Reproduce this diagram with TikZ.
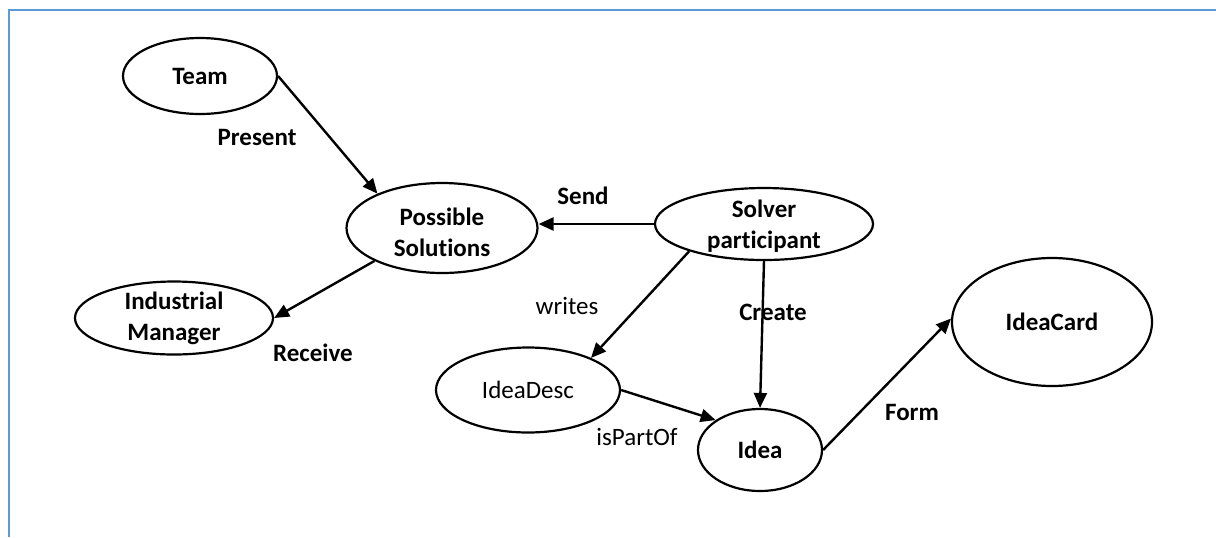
\documentclass[tikz,border=0pt]{standalone}
\usepackage{fontspec}
\setmainfont{Carlito}[Ligatures={NoCommon}]
\usetikzlibrary{shapes.geometric,arrows.meta}
\definecolor{frameblue}{RGB}{91,155,213}
\tikzset{
  ell/.style={ellipse, draw=black, line width=1.1pt, inner sep=0pt},
  txt/.style={font=\fontsize{12.5}{15.5}\selectfont\bfseries, align=center, inner sep=0pt},
  plain/.style={font=\fontsize{12.5}{15.5}\selectfont, align=center, inner sep=0pt},
  conn/.style={line width=1.2pt, -{Triangle[length=7.5pt,width=6.5pt]}}
}
\begin{document}
\begin{tikzpicture}[x=0.5pt,y=-0.5pt]
\useasboundingbox (0,0) rectangle (1216,537);
\coordinate (fa) at (8.5,537);
\coordinate (fb) at (8.5,9.5);
\coordinate (fc) at (1216,9.5);
\draw[frameblue, line width=1pt] (fa) -- (fb) -- (fc);

% ellipses
\node[ell, minimum width=77pt, minimum height=38pt] (team) at (200,76) {};
\node[txt] (teamt) at (team) {Team};
\node[ell, minimum width=95.5pt, minimum height=45pt] (ps) at (442,228) {};
\node[txt] (pst) at ([yshift=-2pt]ps) {Possible\\Solutions};
\node[ell, minimum width=99pt, minimum height=36.5pt] (im) at (174,318) {};
\node[txt] (imt) at (im) {Industrial\\Manager};
\node[ell, minimum width=109pt, minimum height=36pt] (sol) at (764,224) {};
\node[txt] (solt) at ([yshift=-1pt]sol) {Solver\\participant};
\node[ell, minimum width=92pt, minimum height=42.5pt] (idd) at (528,390) {};
\node[plain] (iddt) at (idd) {IdeaDesc};
\node[ell, minimum width=62pt, minimum height=41pt] (idea) at (760,450) {};
\node[txt] (ideat) at (idea) {Idea};
\node[ell, minimum width=100pt, minimum height=64pt] (card) at (1052,322) {};
\node[txt] (cardt) at (card) {IdeaCard};

% connectors
\draw[conn] (team.east) -- (ps.152);
\draw[conn] (ps.206) -- (im.east);
\draw[conn] (sol.west) -- (ps.east |- sol.west);
\draw[conn] (sol.200) -- (idd.27);
\draw[conn] (sol.south) -- (idea.north);
\draw[conn] (idd.east) -- (idea.146);
\draw[conn] (idea.east) -- (card.178);

% labels
\node[txt] (lpresent) at (257,137) {Present};
\node[txt] (lreceive) at (313,353) {Receive};
\node[txt] (lsend) at (583,196) {Send};
\node[plain] (lwrites) at (567,306) {writes};
\node[txt] (lcreate) at (773,312) {Create};
\node[plain] (lpart) at (637,437) {isPartOf};
\node[txt] (lform) at (912,412) {Form};
\end{tikzpicture}
\end{document}
